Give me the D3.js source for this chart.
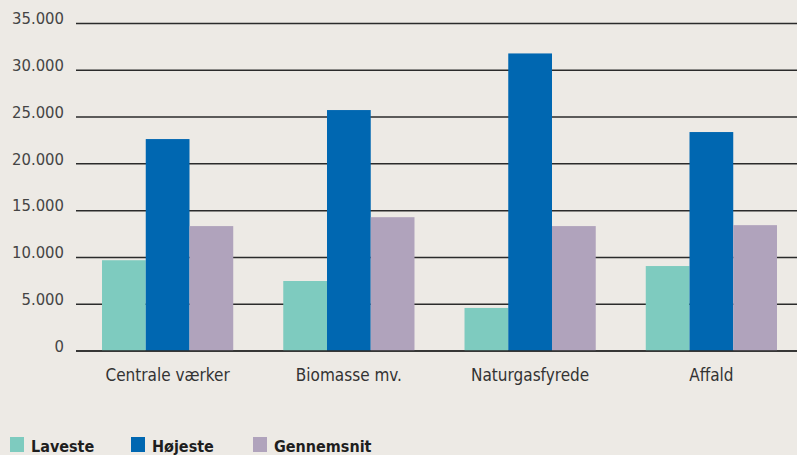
<!DOCTYPE html>
<html>
<head>
<script src="https://d3js.org/d3.v7.min.js"></script>
<style>
  body { margin: 0; background: #edeae5; }
  svg { display: block; font-family: "Liberation Sans Narrow", "DejaVu Sans Condensed", "Roboto Condensed", sans-serif; }
  .tick-label { font-size: 16.5px; fill: #444; }
  .cat-label { font-size: 17px; fill: #333; }
  .legend-label { font-size: 16px; font-weight: bold; fill: #1e1e1e; }
</style>
</head>
<body>
<script>
// data
var categories = ["Centrale værker", "Biomasse mv.", "Naturgasfyrede", "Affald"];
var seriesNames = ["Laveste", "Højeste", "Gennemsnit"];
var laveste = [9700, 7480, 4600, 9080];
var hojeste = [22650, 25750, 31800, 23400];
var gennemsnit = [13350, 14300, 13350, 13450];
var tickValues = [0, 5000, 10000, 15000, 20000, 25000, 30000, 35000];
var colors = ["#7ecbbf", "#0067b1", "#b0a3bc"];

var width = 797, height = 455;
var svg = d3.select("body").append("svg")
    .attr("width", width)
    .attr("height", height);

var rows = categories.map(function(c, i) {
    return { cat: c, values: [laveste[i], hojeste[i], gennemsnit[i]] };
});

// scales
var x0 = d3.scaleBand()
    .domain(categories)
    .range([77, 802])
    .paddingInner(0.276)
    .paddingOuter(0.138);
var x1 = d3.scaleBand()
    .domain(seriesNames)
    .range([0, x0.bandwidth()]);
var y = d3.scaleLinear()
    .domain([0, 35000])
    .range([351, 23.5]);

var fmt = function(v) { return d3.format(",")(v).replace(/,/g, "."); };

// gridlines
svg.append("g").selectAll("line")
    .data(tickValues)
    .enter().append("line")
    .attr("x1", 76)
    .attr("x2", width)
    .attr("y1", function(d) { return y(d); })
    .attr("y2", function(d) { return y(d); })
    .attr("stroke", "#2b2b2b")
    .attr("stroke-width", 1.5);

// y tick labels
svg.append("g").selectAll("text")
    .data(tickValues)
    .enter().append("text")
    .attr("class", "tick-label")
    .attr("x", 64)
    .attr("y", function(d) { return y(d); })
    .attr("dy", "0.05em")
    .attr("text-anchor", "end")
    .text(fmt);

// bars
var groups = svg.append("g").selectAll("g")
    .data(rows)
    .enter().append("g")
    .attr("transform", function(d) { return "translate(" + x0(d.cat) + ",0)"; });

groups.selectAll("rect")
    .data(function(d) { return d.values.map(function(v, i) { return { key: seriesNames[i], value: v, i: i }; }); })
    .enter().append("rect")
    .attr("x", function(d) { return x1(d.key); })
    .attr("width", x1.bandwidth())
    .attr("y", function(d) { return y(d.value); })
    .attr("height", function(d) { return y(0) - y(d.value); })
    .attr("fill", function(d) { return colors[d.i]; });

// baseline on top
svg.append("line")
    .attr("x1", 76).attr("x2", width)
    .attr("y1", y(0)).attr("y2", y(0))
    .attr("stroke", "#2b2b2b")
    .attr("stroke-width", 1.5);

// category labels
svg.append("g").selectAll("text")
    .data(categories)
    .enter().append("text")
    .attr("class", "cat-label")
    .attr("x", function(d) { return x0(d) + x0.bandwidth() / 2; })
    .attr("y", 381)
    .attr("text-anchor", "middle")
    .text(function(d) { return d; });

// legend
var legendX = [10, 131, 253];
var legend = svg.append("g").selectAll("g")
    .data(seriesNames)
    .enter().append("g")
    .attr("transform", function(d, i) { return "translate(" + legendX[i] + ",437)"; });
legend.append("rect")
    .attr("width", 14)
    .attr("height", 15)
    .attr("fill", function(d, i) { return colors[i]; });
legend.append("text")
    .attr("class", "legend-label")
    .attr("x", 21)
    .attr("y", 15)
    .text(function(d) { return d; });
</script>
</body>
</html>
